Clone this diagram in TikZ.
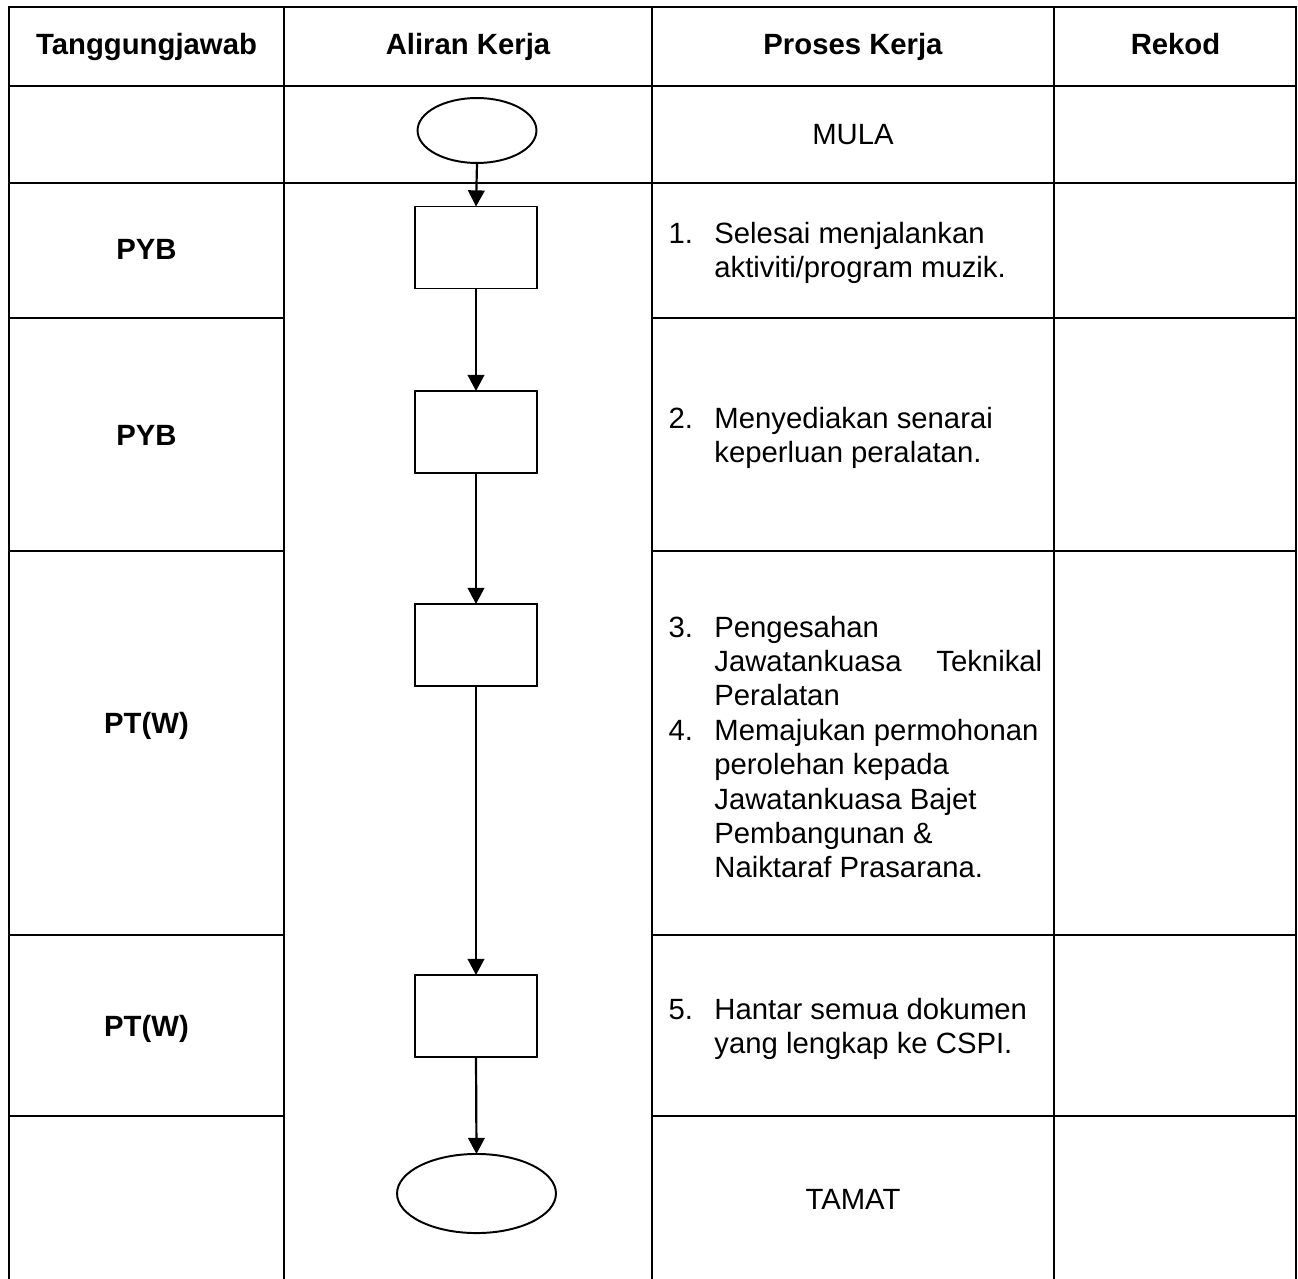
\documentclass[tikz,border=0pt]{standalone}
\usepackage{fontspec}
\setmainfont{Liberation Sans}
\usetikzlibrary{arrows.meta}
\usetikzlibrary{shapes.geometric}

\newcommand{\numcol}{18.8pt}

\begin{document}
\begin{tikzpicture}[x=0.4096pt,y=-0.4096pt,
    font=\fontsize{12}{14.1}\selectfont,
    grid/.style={line width=1.1pt,line cap=rect},
    stepbox/.style={draw,line width=0.8pt,outer sep=0pt,minimum width=49.6pt,minimum height=33.6pt},
    endpoint/.style={draw,ellipse,line width=0.8pt,outer sep=0pt,inner sep=0pt},
    flow/.style={line width=0.9pt,-{Triangle[length=6.6pt,width=6.8pt]}},
    head/.style={anchor=base,font=\fontsize{12}{14.1}\selectfont\bfseries},
    who/.style={anchor=base,font=\fontsize{12}{14.1}\selectfont\bfseries},
    proc/.style={anchor=base west,inner sep=0pt}]

    \useasboundingbox (0,0) rectangle (1298,1278);

    \foreach \x in {9,284,652,1054,1296}
        \draw[grid] (\x,7) -- (\x,1278);
    \foreach \y in {7,86,183}
        \draw[grid] (9,\y) -- (1296,\y);
    \foreach \y in {318,551,935,1116} {
        \draw[grid] (9,\y) -- (284,\y);
        \draw[grid] (652,\y) -- (1296,\y);
    };

    \node[head] (h1) at (146.5,55) {Tanggungjawab};
    \node[head] (h2) at (468,55) {Aliran Kerja};
    \node[head] (h3) at (853,55) {Proses Kerja};
    \node[head] (h4) at (1175.5,55) {Rekod};

    \node[who] (w1) at (146.5,260) {PYB};
    \node[who] (w2) at (146.5,445) {PYB};
    \node[who] (w3) at (146.5,733) {PT(W)};
    \node[who] (w4) at (146.5,1036) {PT(W)};

    \node[endpoint,minimum width=48.7pt,minimum height=26.6pt] (start) at (477,130.5) {};
    \node[stepbox] (s1) at (476,247.5) {};
    \node[stepbox] (s2) at (476,432) {};
    \node[stepbox] (s3) at (476,645) {};
    \node[stepbox] (s4) at (476,1016) {};
    \node[endpoint,minimum width=65.1pt,minimum height=32.4pt] (stop) at (476.5,1193.5) {};

    \draw[flow] (start.south) -- (s1.north);
    \draw[flow] (s1.south) -- (s2.north);
    \draw[flow] (s2.south) -- (s3.north);
    \draw[flow] (s3.south) -- (s4.north);
    \draw[flow] (s4.south) -- (stop.north);

    \node[anchor=base] (mula) at (853,145) {MULA};
    \node[anchor=base] (tamat) at (853,1209) {TAMAT};

    \node[proc] (p1) at (668,243) {\begin{tabular}[t]{@{}p{\numcol}@{}l@{}}
        1. & Selesai menjalankan\\
           & aktiviti/program muzik.
    \end{tabular}};
    \node[proc] (p2) at (668,428) {\begin{tabular}[t]{@{}p{\numcol}@{}l@{}}
        2. & Menyediakan senarai\\
           & keperluan peralatan.
    \end{tabular}};
    \node[proc] (p3) at (668,637) {\begin{tabular}[t]{@{}p{\numcol}@{}l@{}}
        3. & Pengesahan\\
           & \makebox[134.3pt][s]{Jawatankuasa\hfill Teknikal}\\
           & Peralatan\\
        4. & Memajukan permohonan\\
           & perolehan kepada\\
           & Jawatankuasa Bajet\\
           & Pembangunan \&\\
           & Naiktaraf Prasarana.
    \end{tabular}};
    \node[proc] (p4) at (668,1019) {\begin{tabular}[t]{@{}p{\numcol}@{}l@{}}
        5. & Hantar semua dokumen\\
           & yang lengkap ke CSPI.
    \end{tabular}};
\end{tikzpicture}
\end{document}
